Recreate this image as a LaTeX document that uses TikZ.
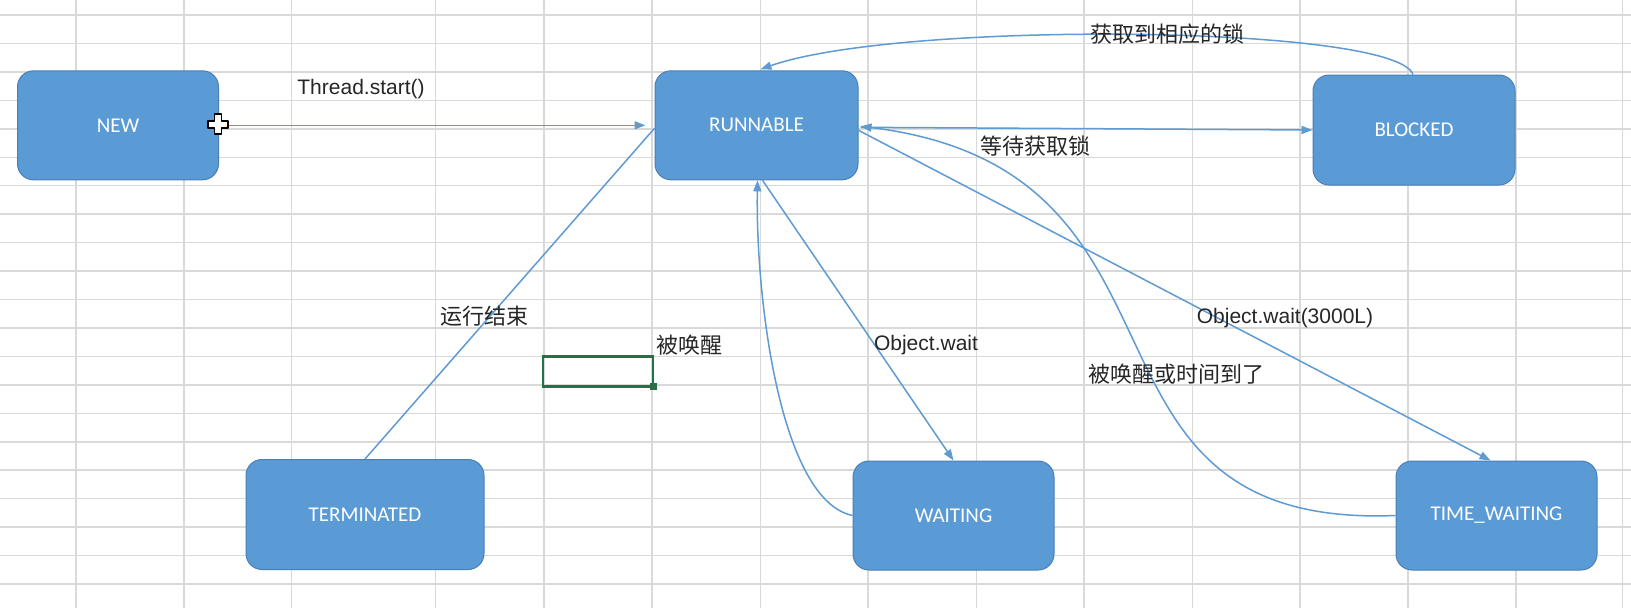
\documentclass[tikz,border=0pt]{standalone}
\usepackage{fontspec}
\setmainfont{Liberation Sans}
\newfontfamily\boxfont{Carlito}
\newfontfamily\cjk{Noto Sans CJK SC}
\usetikzlibrary{arrows.meta,calc}
\definecolor{boxfill}{HTML}{5B9BD5}
\definecolor{boxedge}{HTML}{4A7FB5}
\definecolor{conncol}{HTML}{5F9BD3}
\definecolor{gridcol}{HTML}{D9D9D9}
\definecolor{excelgreen}{HTML}{217346}
\definecolor{labelcol}{HTML}{262626}
\tikzset{
  state/.style={draw=boxedge, line width=1pt, fill=boxfill, rounded corners=16pt,
    text=white, font=\boxfont\fontsize{21}{24}\selectfont, inner sep=0pt},
  conn/.style={draw=conncol, line width=1.5pt, -{Triangle[length=11pt,width=8pt]}},
  plainconn/.style={draw=conncol, line width=1.5pt},
  gridline/.style={draw=gridcol, line width=1.5pt},
  lbl/.style={text=labelcol, inner sep=0pt, font=\fontsize{21}{24}\selectfont},
  cjklbl/.style={text=labelcol, inner sep=0pt, font=\cjk\fontsize{22}{26}\selectfont},
}
\begin{document}
\begin{tikzpicture}[x=1pt,y=-1pt]
\fill[white] (0,0) rectangle (1631,608);
\useasboundingbox (0,0) rectangle (1631,608);
% spreadsheet grid
\foreach \gx in {75.8,183.9,291.7,435.6,543.8,652,760.6,868,976.5,1084,1192.5,1300,1408,1516,1622.6}
  \draw[gridline] (\gx,0) -- (\gx,608);
\foreach \gi in {0,...,20}
  \draw[gridline] (0,{15+28.45*\gi}) -- (1631,{15+28.45*\gi});

% states
\node[state, minimum width=201pt, minimum height=109pt] (new) at (118,125.3) {NEW};
\node[state, minimum width=203pt, minimum height=109pt] (runnable) at (756.5,125.3) {RUNNABLE};
\node[state, minimum width=202pt, minimum height=110pt] (blocked) at (1414,130) {BLOCKED};
\node[state, minimum width=238pt, minimum height=110pt] (term) at (365,514.5) {TERMINATED};
\node[state, minimum width=201pt, minimum height=109pt] (waiting) at (953.5,515.5) {WAITING};
\node[state, minimum width=201pt, minimum height=109pt] (timew) at (1496.5,515.5) {TIME\_WAITING};

% connectors
\draw[conn] (new.east) -- ($(runnable.west)+(-9,0)$);
\draw[plainconn] (term.north) -- ($(runnable.west)+(0,3)$);
\draw[conn] ($(runnable.east)+(2,2)$) -- (blocked.west);
\draw[conn] ($(blocked.north)+(-1,0)$)
  .. controls ($(blocked.north)+(-19,-50)$) and ($(runnable.north)+(143,-50)$)
  .. ($(runnable.north)+(4,-1)$);
\draw[conn] ($(runnable.south)+(6,0)$) -- (waiting.north);
\draw[conn] (waiting.west)
  .. controls ($(waiting.west)+(-72,-15)$) and ($(runnable.south)+(-1,120)$)
  .. ($(runnable.south)+(1,0)$);
\draw[conn] ($(runnable.east)+(0,5)$) -- ($(timew.north)+(-6,0)$);
\draw[conn] (timew.west)
  .. controls ($(timew.west)+(-346,14)$) and ($(runnable.east)+(362,45)$)
  .. ($(runnable.east)+(2,1)$);

% labels
\node[lbl] (l1) at (361,89) {Thread.start()};
\node[cjklbl] (l2) at (1167,34) {获取到相应的锁};
\node[cjklbl] (l3) at (1035,146) {等待获取锁};
\node[cjklbl] (l4) at (484,316) {运行结束};
\node[cjklbl] (l5) at (689,345) {被唤醒};
\node[lbl] (l6) at (926,345) {Object.wait};
\node[lbl] (l7) at (1285,318) {Object.wait(3000L)};
\node[cjklbl] (l8) at (1176,374) {被唤醒或时间到了};

% selected spreadsheet cell
\draw[excelgreen, line width=2.2pt] (542.7,356.5) rectangle (653,386.5);
\fill[excelgreen] (649.5,383) rectangle (656.5,390);

% mouse cursor (move cross)
\begin{scope}[shift={($(new.east)+(-1,-1)$)}]
\filldraw[fill=white, draw=black, line width=1.8pt, line join=round]
  (-3.5,-10) -- (3.5,-10) -- (3.5,-3.5) -- (10,-3.5) -- (10,3.5) -- (3.5,3.5)
  -- (3.5,10) -- (-3.5,10) -- (-3.5,3.5) -- (-10,3.5) -- (-10,-3.5) -- (-3.5,-3.5) -- cycle;
\end{scope}
\end{tikzpicture}
\end{document}
